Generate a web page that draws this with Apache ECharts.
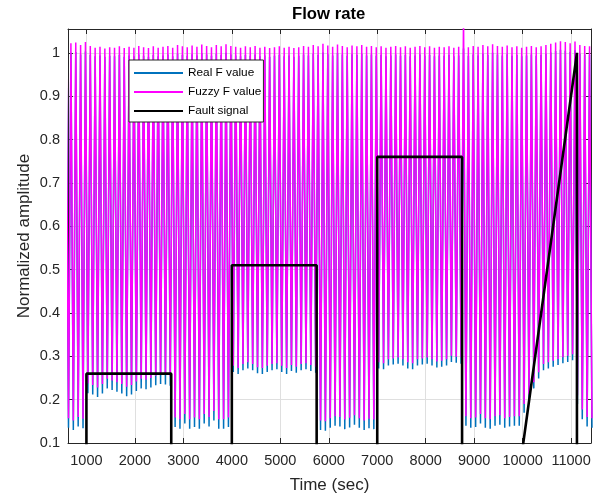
<!DOCTYPE html>
<html>
<head>
<meta charset="utf-8">
<script src="https://cdn.jsdelivr.net/npm/echarts@6/dist/echarts.min.js"></script>
<style>html,body{margin:0;padding:0;background:#fff}#c{width:608px;height:495px}</style>
</head>
<body>
<div id="c"></div>
<script>
// ---- data ----
const xTicks = [1000, 2000, 3000, 4000, 5000, 6000, 7000, 8000, 9000, 10000, 11000];
const yTicks = [0.1, 0.2, 0.3, 0.4, 0.5, 0.6, 0.7, 0.8, 0.9, 1];

// oscillation: one peak and one trough per cycle (peak at cycleStart + k*period, trough half a period later)
const cycleStart = 580;
const cyclePeriod = 100;

const fuzzyPeaks = [
  1.020, 1.022, 1.024, 1.018, 1.025, 1.016, 1.012, 1.014, 1.010, 1.013,
  1.012, 1.015, 1.011, 1.014, 1.012, 1.016, 1.013, 1.011, 1.015, 1.012,
  1.014, 1.016, 1.012, 1.018, 1.015, 1.013, 1.017, 1.014, 1.019, 1.016,
  1.013, 1.018, 1.015, 1.020, 1.016, 1.014, 1.012, 1.015, 1.013, 1.016,
  1.012, 1.014, 1.011, 1.013, 1.015, 1.012, 1.014, 1.011, 1.013, 1.016,
  1.014, 1.018, 1.015, 1.021, 1.017, 1.014, 1.019, 1.016, 1.013, 1.017,
  1.015, 1.018, 1.014, 1.016, 1.013, 1.015, 1.012, 1.014, 1.016, 1.013,
  1.015, 1.012, 1.014, 1.016, 1.013, 1.015, 1.012, 1.014, 1.013, 1.015,
  1.012, 1.014, 1.090, 1.013, 1.016, 1.014, 1.018, 1.015, 1.020, 1.016,
  1.014, 1.017, 1.013, 1.015, 1.012, 1.014, 1.016, 1.013, 1.015, 1.018,
  1.021, 1.024, 1.027, 1.025, 1.022, 1.026, 1.018, 1.016, 1.015
];
const fuzzyTroughs = [
  0.157, 0.152, 0.160, 0.156,
  0.237, 0.234, 0.228, 0.236, 0.248, 0.244, 0.240, 0.236, 0.230, 0.234, 0.242, 0.248, 0.246, 0.250, 0.255, 0.258, 0.257, 0.254,
  0.159, 0.155, 0.167, 0.155, 0.159, 0.155, 0.167, 0.160, 0.174, 0.155, 0.155, 0.159,
  0.278, 0.273, 0.282, 0.286, 0.282, 0.275, 0.273, 0.278, 0.282, 0.284, 0.278, 0.273, 0.280, 0.276, 0.282, 0.284, 0.280, 0.276,
  0.152, 0.150, 0.157, 0.162, 0.160, 0.154, 0.158, 0.164, 0.157, 0.152, 0.156, 0.154,
  0.286, 0.284, 0.293, 0.295, 0.297, 0.293, 0.286, 0.284, 0.293, 0.295, 0.297, 0.293, 0.288, 0.290, 0.293, 0.301, 0.299, 0.297,
  0.162, 0.157, 0.159, 0.167, 0.157, 0.155, 0.162, 0.164, 0.157, 0.160, 0.162, 0.162,
  0.190, 0.212, 0.240, 0.263, 0.282, 0.286, 0.290, 0.294, 0.298, 0.301, 0.305,
  0.210, 0.177, 0.160, 0.157
];
const realPeaks = [
  0.998, 1.000, 1.002, 0.996, 1.003, 0.995, 0.992, 0.994, 0.991, 0.993,
  0.992, 0.995, 0.991, 0.994, 0.992, 0.996, 0.993, 0.991, 0.995, 0.992,
  0.994, 0.996, 0.992, 0.998, 0.995, 0.993, 0.997, 0.994, 0.999, 0.996,
  0.993, 0.998, 0.995, 1.000, 0.996, 0.994, 0.992, 0.995, 0.993, 0.996,
  0.992, 0.994, 0.991, 0.993, 0.995, 0.992, 0.994, 0.991, 0.993, 0.996,
  0.994, 0.998, 0.995, 1.001, 0.997, 0.994, 0.999, 0.996, 0.993, 0.997,
  0.995, 0.998, 0.994, 0.996, 0.993, 0.995, 0.992, 0.994, 0.996, 0.993,
  0.995, 0.992, 0.994, 0.996, 0.993, 0.995, 0.992, 0.994, 0.993, 0.995,
  0.992, 0.994, 1.010, 0.993, 0.996, 0.994, 0.998, 0.995, 1.000, 0.996,
  0.994, 0.997, 0.993, 0.995, 0.992, 0.994, 0.996, 0.993, 0.995, 0.998,
  1.001, 1.004, 1.007, 1.005, 1.002, 1.006, 0.998, 0.996, 0.995
];
const realTroughs = [
  0.135, 0.130, 0.138, 0.134,
  0.215, 0.212, 0.206, 0.214, 0.226, 0.222, 0.218, 0.214, 0.208, 0.212, 0.220, 0.226, 0.224, 0.228, 0.233, 0.236, 0.235, 0.232,
  0.137, 0.133, 0.145, 0.133, 0.137, 0.133, 0.145, 0.138, 0.152, 0.133, 0.133, 0.137,
  0.264, 0.259, 0.268, 0.272, 0.268, 0.261, 0.259, 0.264, 0.268, 0.270, 0.264, 0.259, 0.266, 0.262, 0.268, 0.270, 0.266, 0.262,
  0.130, 0.128, 0.135, 0.140, 0.138, 0.132, 0.136, 0.142, 0.135, 0.130, 0.134, 0.132,
  0.272, 0.270, 0.279, 0.281, 0.283, 0.279, 0.272, 0.270, 0.279, 0.281, 0.283, 0.279, 0.274, 0.276, 0.279, 0.287, 0.285, 0.283,
  0.140, 0.135, 0.137, 0.145, 0.135, 0.133, 0.140, 0.142, 0.135, 0.138, 0.140, 0.140,
  0.170, 0.195, 0.226, 0.249, 0.268, 0.272, 0.276, 0.280, 0.284, 0.287, 0.291,
  0.190, 0.155, 0.138, 0.135
];

const faultTimes  = [620, 1000, 1000, 2750, 2750, 4000, 4000, 5750, 5750, 7000, 7000, 8750, 8750, 9890, 11120, 11120, 11410];
const faultValues = [0,   0,    0.26, 0.26, 0,    0,    0.51, 0.51, 0,    0,    0.76, 0.76, 0,    0,    1,     0,     0];

// ---- build ----
function buildWave(peaks, troughs) {
  const pts = [];
  for (let k = 0; k < peaks.length; k++) {
    pts.push([cycleStart + k * cyclePeriod, peaks[k]]);
    pts.push([cycleStart + k * cyclePeriod + cyclePeriod / 2, troughs[k]]);
  }
  return pts;
}
const faultData = faultTimes.map((t, i) => [t, faultValues[i]]);

const FF = '"Liberation Sans", Arial, Helvetica, sans-serif';
const AX = '#262626';
const GRIDC = '#dfdfdf';

const chart = echarts.init(document.getElementById('c'), null, {renderer: 'canvas'});
const option = {
  animation: false,
  backgroundColor: '#ffffff',
  title: {
    text: 'Flow rate', left: 287, top: 1,
    textStyle: {fontFamily: FF, fontSize: 16.7, fontWeight: 'bold', color: '#000'}
  },
  grid: {left: 68, right: 17, top: 29, bottom: 52, containLabel: false, outerBoundsMode: 'none'},
  legend: {
    orient: 'vertical', left: 129, top: 60,
    itemWidth: 49, itemHeight: 12, itemGap: 7,
    padding: [7, 2, 5, 4],
    backgroundColor: '#ffffff', borderColor: AX, borderWidth: 1, borderRadius: 0,
    itemStyle: {color: 'rgba(0,0,0,0)', borderColor: 'rgba(0,0,0,0)', borderWidth: 0, opacity: 0},
    textStyle: {fontFamily: FF, fontSize: 11.8, color: '#000'},
    data: ['Real F value', 'Fuzzy F value', 'Fault signal']
  },
  xAxis: [
    {
      type: 'value', min: 620, max: 11410, position: 'bottom',
      name: 'Time (sec)', nameLocation: 'middle', nameGap: 34, nameMoveOverlap: false,
      nameTextStyle: {fontFamily: FF, fontSize: 17, color: AX},
      axisLine: {show: true, onZero: false, lineStyle: {color: AX, width: 1}},
      axisTick: {show: true, inside: true, length: 5, customValues: xTicks, lineStyle: {color: AX}},
      axisLabel: {customValues: xTicks, interval: 0, margin: 10, fontFamily: FF, fontSize: 14.5, color: AX, formatter: v => String(v)},
      splitLine: {show: true, lineStyle: {color: GRIDC, width: 1}}
    },
    {
      type: 'value', min: 620, max: 11410, position: 'top',
      axisLine: {show: true, onZero: false, lineStyle: {color: AX, width: 1}},
      axisTick: {show: true, inside: true, length: 5, customValues: xTicks, lineStyle: {color: AX}},
      axisLabel: {show: false},
      splitLine: {show: false}
    }
  ],
  yAxis: [
    {
      type: 'value', min: 0.1, max: 1.055, position: 'left',
      name: 'Normalized amplitude', nameLocation: 'middle', nameGap: 35, nameMoveOverlap: false,
      nameTextStyle: {fontFamily: FF, fontSize: 17, color: AX},
      axisLine: {show: true, onZero: false, lineStyle: {color: AX, width: 1}},
      axisTick: {show: true, inside: true, length: 5, customValues: yTicks, lineStyle: {color: AX}},
      axisLabel: {customValues: yTicks, interval: 0, margin: 8, fontFamily: FF, fontSize: 14.5, color: AX, formatter: v => String(v)},
      splitLine: {show: true, lineStyle: {color: GRIDC, width: 1}}
    },
    {
      type: 'value', min: 0.1, max: 1.055, position: 'right',
      axisLine: {show: true, onZero: false, lineStyle: {color: AX, width: 1}},
      axisTick: {show: true, inside: true, length: 5, customValues: yTicks, lineStyle: {color: AX}},
      axisLabel: {show: false},
      splitLine: {show: false}
    }
  ],
  series: [
    {
      name: 'Real F value', type: 'line', xAxisIndex: 0, yAxisIndex: 0,
      data: buildWave(realPeaks, realTroughs), symbol: 'none', clip: true,
      lineStyle: {color: '#0072BD', width: 1.5}, itemStyle: {color: '#0072BD'}
    },
    {
      name: 'Fuzzy F value', type: 'line', xAxisIndex: 0, yAxisIndex: 0,
      data: buildWave(fuzzyPeaks, fuzzyTroughs), symbol: 'none', clip: true,
      lineStyle: {color: '#FF00FF', width: 1.5}, itemStyle: {color: '#FF00FF'}
    },
    {
      name: 'Fault signal', type: 'line', xAxisIndex: 0, yAxisIndex: 0,
      data: faultData, symbol: 'none', clip: true,
      lineStyle: {color: '#000000', width: 2.6}, itemStyle: {color: '#000000'}
    }
  ]
};
chart.setOption(option);
</script>
</body>
</html>
